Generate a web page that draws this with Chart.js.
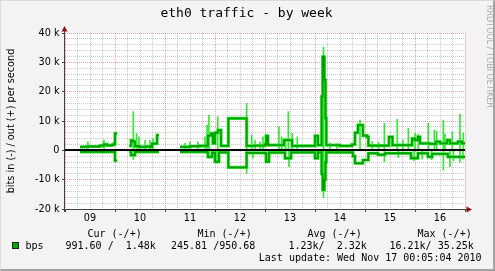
<!DOCTYPE html>
<html>
<head>
<meta charset="utf-8">
<script src="https://cdn.jsdelivr.net/npm/chart.js@4.4.0/dist/chart.umd.min.js"></script>
<style>
  html, body { margin: 0; padding: 0; }
  body { width: 495px; height: 271px; background: #f3f3f3; position: relative; overflow: hidden; }
  #c { position: absolute; left: 0; top: 0; }
  .edge { position: absolute; left: 0; top: 0; width: 495px; height: 271px; box-sizing: border-box;
          border-top: 1px solid #dadada; border-left: 1px solid #dadada;
          border-right: 2px solid #a3a3a3; border-bottom: 2px solid #a3a3a3; pointer-events: none; }
  .mono { position: absolute; font-family: "DejaVu Sans Mono", monospace; font-size: 10px; line-height: 12px; white-space: pre; color: #000; }
  #title { position: absolute; left: 0; top: 5px; width: 493px; text-align: center;
           font-family: "DejaVu Sans Mono", monospace; font-size: 13px; line-height: 16px; color: #000; }
  #mark { position: absolute; left: 484px; top: 5px; writing-mode: vertical-rl;
          font-family: "DejaVu Sans", sans-serif; font-size: 8px; line-height: 10px; color: #aaaaaa; white-space: pre; }
  #swatch { position: absolute; left: 12px; top: 242px; width: 5px; height: 5px; background: #00aa00; border: 1px solid #202020; }
</style>
</head>
<body>
<canvas id="c" width="495" height="271"></canvas>
<div id="title">eth0 traffic - by week</div>
<div id="mark">RRDTOOL / TOBI OETIKER</div>
<div class="mono" style="left:87.5px;top:227.5px">Cur (-/+)</div>
<div class="mono" style="left:197.5px;top:227.5px">Min (-/+)</div>
<div class="mono" style="left:307.5px;top:227.5px">Avg (-/+)</div>
<div class="mono" style="left:417.5px;top:227.5px">Max (-/+)</div>
<div id="swatch"></div>
<div class="mono" style="left:25.5px;top:239.7px">bps</div>
<div class="mono" style="left:65.5px;top:239.7px">991.60 /  1.48k</div>
<div class="mono" style="left:171px;top:239.7px">245.81 /950.68</div>
<div class="mono" style="left:288.5px;top:239.7px">1.23k/  2.32k</div>
<div class="mono" style="left:389.5px;top:239.7px">16.21k/ 35.25k</div>
<div class="mono" style="left:258.8px;top:252px">Last update: Wed Nov 17 00:05:04 2010</div>
<div class="edge"></div>
<script>
'use strict'

// hours since the start of the week (Nov 09 00:00), values in k bits/s
const dayLabels = ['09', '10', '11', '12', '13', '14', '15', '16'];

const outAvgHours = [7.2, 10.3, 16.8, 18.7, 20.2, 22.6, 23.5, 24.0, 25.0, 25.5,
    30.9, 31.7, 32.6, 33.6, 36.0, 38.9, 40.8, 41.8, 44.2, 45.1, 45.6,
    55.2, 60.0, 64.8, 67.7, 68.6, 70.1, 71.0, 72.0, 73.4, 74.9, 78.4, 87.2, 91.2, 96.0, 96.5, 97.4,
    105.1, 109.0, 120.0, 121.4, 123.2, 123.7, 124.5, 125.0, 125.4, 132.0, 137.8, 139.2, 140.6,
    143.0, 145.0, 145.6, 155.5, 157.2, 165.6, 166.6, 168.0, 169.4, 170.4, 175.2, 178.1, 180.0,
    183.4, 184.8, 188.6, 190.5, 192.0];
const outAvgValues = [1.2, 1.3, 1.6, 2.0, 1.7, 1.9, 2.2, 5.8, 5.8, null,
    1.5, 3.4, 3.0, 1.4, 1.2, 1.3, 1.2, 2.3, 5.2, 5.2, null,
    1.2, 1.4, 1.5, 1.6, 5.0, 5.8, 2.4, 6.0, 6.9, 1.5, 10.9, 1.5, 1.6, 2.0, 4.9, 1.8,
    3.5, 1.5, 4.9, 1.8, 18.3, 31.9, 24.0, 11.0, 1.8, 1.5, 2.0, 6.0, 8.6,
    5.0, 4.6, 1.6, 4.6, 1.8, 1.8, 4.0, 3.5, 4.6, 2.4, 2.2, 3.0, 2.4,
    3.5, 2.4, 3.0, 2.4, 2.4];

const inAvgHours = [7.2, 24.0, 25.0, 25.5,
    30.9, 31.7, 33.6, 45.1, 45.6,
    55.2, 67.7, 68.6, 70.6, 72.0, 73.9, 78.4, 87.2, 96.0, 96.5, 97.9, 105.6, 108.5,
    120.0, 121.4, 123.2, 123.7, 124.5, 125.0, 125.4, 138.2, 139.2, 143.0, 145.6, 150.2,
    153.6, 166.1, 169.4, 174.2, 176.2, 183.8, 192.0];
const inAvgValues = [-0.5, -3.5, -3.5, null,
    -0.6, -1.6, -0.5, -0.5, null,
    -0.5, -0.6, -2.2, -0.8, -3.9, -0.7, -5.8, -0.9, -1.0, -3.9, -0.8, -2.7, -0.7,
    -2.7, -0.7, -8.0, -13.5, -10.0, -4.0, -0.7, -2.0, -4.4, -3.3, -1.0, -1.5,
    -1.0, -2.7, -1.0, -2.2, -1.2, -2.2, -2.2];

const outPeakHours = [11.0, 18.7, 32.8, 34.4, 35.5, 38.4, 40.8, 42.2, 57.6, 60.0, 63.8, 67.2,
    68.2, 69.1, 73.3, 87.2, 89.6, 91.2, 93.6, 95.0, 102.7, 104.0, 105.9, 107.2, 109.1, 111.5,
    124.1, 127.2, 130.6, 141.6, 147.5, 150.5, 153.3, 159.5, 162.2, 164.8, 168.0, 169.6, 174.4,
    177.3, 178.4, 181.6, 182.4, 185.9, 189.6, 191.2];
const outPeakValues = [2.9, 3.5, 13.2, 5.7, 4.6, 3.4, 3.4, 4.0, 2.4, 2.9, 2.9, 4.6,
    8.6, 12.0, 11.5, 16.0, 5.2, 3.4, 2.9, 4.6, 8.0, 4.6, 4.2, 13.2, 5.8, 4.6,
    35.25, 2.6, 2.2, 10.3, 3.0, 2.8, 9.2, 10.6, 3.5, 7.5, 5.8, 5.5, 9.2,
    6.9, 6.6, 10.3, 5.5, 6.3, 12.4, 5.8];

const inPeakHours = [18.7, 32.8, 69.1, 73.0, 87.2, 90.2, 107.5, 124.1, 153.3, 160.0,
    167.5, 171.5, 176.0, 181.6, 184.8, 186.5, 189.6, 191.0];
const inPeakValues = [-1.0, -3.1, -2.7, -4.4, -7.8, -2.7, -5.6, -16.21, -3.9, -2.5,
    -3.5, -3.0, -3.2, -6.7, -5.6, -3.5, -4.0, -3.0];

function points(hours, values) {
    return hours.map((h, i) => ({x: h, y: values[i]}));
}

const darkGreen = '#00a000';
const lightGreen = '#33e633';

const plotFrame = {
    id: 'plotFrame',
    beforeDraw(chart) {
        const {ctx, chartArea: a} = chart;
        ctx.save();
        ctx.fillStyle = '#ffffff';
        ctx.fillRect(a.left, a.top, a.right - a.left, a.bottom - a.top);
        ctx.restore();
    },
    afterDatasetsDraw(chart) {
        const {ctx, chartArea: a, scales} = chart;
        const y0 = Math.round(scales.y.getPixelForValue(0));
        ctx.save();
        ctx.fillStyle = '#000000';
        ctx.fillRect(a.left, y0 - 1, a.right - a.left, 2);

        ctx.strokeStyle = '#404040';
        ctx.lineWidth = 1;
        ctx.beginPath();
        ctx.moveTo(a.left - 0.5, a.bottom + 3);
        ctx.lineTo(a.left - 0.5, a.top - 4);
        ctx.moveTo(a.left - 3, a.bottom + 0.5);
        ctx.lineTo(a.right + 2, a.bottom + 0.5);
        ctx.stroke();

        ctx.fillStyle = '#8b1515';
        ctx.beginPath();
        ctx.moveTo(a.left - 0.5, a.top - 7);
        ctx.lineTo(a.left - 3.5, a.top - 1.5);
        ctx.lineTo(a.left + 2.5, a.top - 1.5);
        ctx.closePath();
        ctx.fill();
        ctx.beginPath();
        ctx.moveTo(a.right + 7, a.bottom + 0.5);
        ctx.lineTo(a.right + 1.5, a.bottom - 2.5);
        ctx.lineTo(a.right + 1.5, a.bottom + 3.5);
        ctx.closePath();
        ctx.fill();
        ctx.restore();
    }
};

const tickFont = {family: 'DejaVu Sans', size: 9.7};

new Chart(document.getElementById('c'), {
    type: 'line',
    data: {
        datasets: [
            {type: 'line', data: points(outAvgHours, outAvgValues), borderColor: darkGreen, borderWidth: 1.8, stepped: true, pointRadius: 0, order: 0},
            {type: 'line', data: points(inAvgHours, inAvgValues), borderColor: darkGreen, borderWidth: 1.8, stepped: true, pointRadius: 0, order: 0},
            {type: 'line', data: points(outAvgHours, outAvgValues), borderColor: lightGreen, borderWidth: 3.2, stepped: true, pointRadius: 0, order: 1},
            {type: 'line', data: points(inAvgHours, inAvgValues), borderColor: lightGreen, borderWidth: 3.2, stepped: true, pointRadius: 0, order: 1},
            {type: 'bar', data: points(outPeakHours, outPeakValues), backgroundColor: lightGreen, barThickness: 1, grouped: false, order: 2},
            {type: 'bar', data: points(inPeakHours, inPeakValues), backgroundColor: lightGreen, barThickness: 1, grouped: false, order: 2}
        ]
    },
    options: {
        responsive: false,
        animation: false,
        devicePixelRatio: 1,
        spanGaps: false,
        layout: {padding: {left: 0, top: 33, right: 30, bottom: 42}},
        plugins: {legend: {display: false}, tooltip: {enabled: false}},
        scales: {
            x: {
                type: 'linear',
                min: 0,
                max: 192,
                offset: false,
                afterFit(scale) { scale.height = 20; },
                ticks: {
                    stepSize: 6,
                    maxTicksLimit: 100,
                    autoSkip: false,
                    maxRotation: 0,
                    padding: 1,
                    color: '#000',
                    font: tickFont,
                    callback: v => (v % 24 === 12 ? dayLabels[Math.floor(v / 24)] : '')
                },
                grid: {
                    offset: false,
                    color: c => (c.tick && c.tick.value % 24 === 0 ? 'rgba(225,90,90,0.55)' : 'rgba(150,150,150,0.5)'),
                    tickLength: 3,
                    tickColor: c => (c.tick && c.tick.value % 24 === 0 ? '#444' : 'rgba(0,0,0,0)')
                },
                border: {display: false, dash: [1, 1]}
            },
            y: {
                min: -20,
                max: 40,
                afterFit(scale) { scale.width = 65; },
                ticks: {
                    stepSize: 2,
                    maxTicksLimit: 100,
                    autoSkip: false,
                    padding: 2.5,
                    color: '#000',
                    font: tickFont,
                    callback: v => (v % 10 === 0 ? (v === 0 ? '0' : v + ' k') : '')
                },
                grid: {
                    color: c => (c.tick && c.tick.value === 0 ? 'rgba(0,0,0,0)' :
                        (c.tick && c.tick.value % 10 === 0 ? 'rgba(225,90,90,0.55)' : 'rgba(150,150,150,0.5)')),
                    tickLength: 3,
                    tickColor: c => (c.tick && c.tick.value % 10 === 0 ? '#444' : 'rgba(0,0,0,0)')
                },
                border: {display: false, dash: [1, 1]},
                title: {
                    display: true,
                    text: 'bits in (-) / out (+) per second',
                    color: '#000',
                    font: tickFont,
                    padding: {top: 6, bottom: 0}
                }
            }
        }
    },
    plugins: [plotFrame]
});
</script>
</body>
</html>
